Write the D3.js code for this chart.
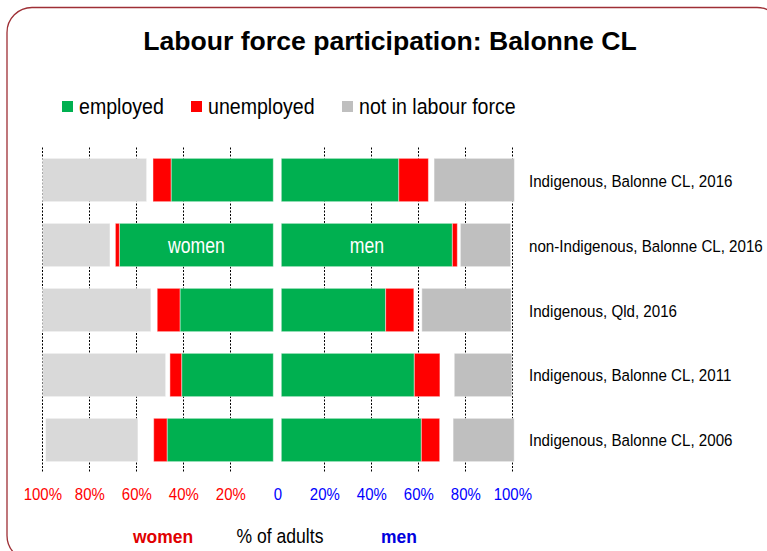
<!DOCTYPE html>
<html>
<head>
<meta charset="utf-8">
<script src="https://cdn.jsdelivr.net/npm/d3@7"></script>
<style>
  body { margin: 0; background: #fff; }
  text { font-family: "Liberation Sans", Arial, sans-serif; }
</style>
</head>
<body>
<svg id="chart" width="767" height="551"></svg>
<script>
// ---------------- data (% of adults)
const categories = ["Indigenous, Balonne CL, 2016", "non-Indigenous, Balonne CL, 2016",
  "Indigenous, Qld, 2016", "Indigenous, Balonne CL, 2011", "Indigenous, Balonne CL, 2006"];

const womenEmployed   = [43.5, 65.5, 39.7, 39.0, 45.2];
const womenUnemployed = [7.7, 1.7, 9.7, 5.0, 5.7];
const womenNotStated  = [2.7, 2.3, 2.7, 1.8, 6.7];
const womenNotInLF    = [44.3, 28.6, 46.1, 52.3, 39.3];

const menEmployed   = [50.0, 72.8, 44.4, 56.6, 59.6];
const menUnemployed = [12.6, 2.1, 12.0, 10.9, 7.8];
const menNotStated  = [2.4, 1.3, 3.4, 6.1, 5.7];
const menNotInLF    = [34.2, 21.4, 38.0, 24.5, 26.0];

const womenTicks = [100, 80, 60, 40, 20];
const menTicks = [0, 20, 40, 60, 80, 100];
const gridTicks = [20, 40, 60, 80, 100];

const legendItems = ["employed", "unemployed", "not in labour force"];

// ---------------- setup
const svg = d3.select("#chart");
const center = 277.3, half = 235, gap = 4;
const plotTop = 147.5, plotBottom = 472.5;

const xW = d3.scaleLinear().domain([0, 100]).range([center, center - half]);
const xM = d3.scaleLinear().domain([0, 100]).range([center, center + half]);
const y = d3.scaleBand().domain(categories).range([plotTop, plotBottom]).paddingInner(0.333).paddingOuter(0.1667);

// helper for the narrow looking text
function label(g, x, yy, txt, size, sx, anchor, color, weight) {
  return g.append("text")
    .attr("transform", "translate(" + x + "," + yy + ") scale(" + sx + ",1)")
    .attr("text-anchor", anchor || "start")
    .attr("font-size", size)
    .attr("font-weight", weight || "normal")
    .attr("fill", color || "#000")
    .text(txt);
}

// frame
svg.append("rect")
  .attr("x", 7).attr("y", 7.5).attr("width", 775).attr("height", 553)
  .attr("rx", 25).attr("ry", 25)
  .attr("fill", "#fff").attr("stroke", "#9e2f35").attr("stroke-width", 1.3);

// title
svg.append("text")
  .attr("x", 390).attr("y", 49.5)
  .attr("text-anchor", "middle")
  .attr("font-size", 26.6).attr("font-weight", "bold")
  .text("Labour force participation: Balonne CL");

// legend
const legendColors = ["#00b050", "#ff0000", "#bfbfbf"];
const legendX = [62, 191, 342];
const legend = svg.append("g");
legendItems.forEach((d, i) => {
  legend.append("rect").attr("x", legendX[i]).attr("y", 101).attr("width", 11).attr("height", 11)
    .attr("fill", legendColors[i]);
  label(legend, legendX[i] + 17, 114, d, 22, 0.89);
});

// gridlines
const grid = svg.append("g")
  .attr("stroke", "#000").attr("stroke-width", 1).attr("stroke-dasharray", "2,1.5");
[xW, xM].forEach(sc => {
  grid.selectAll(null).data(gridTicks).enter().append("line")
    .attr("x1", d => Math.round(sc(d)) + 0.5).attr("x2", d => Math.round(sc(d)) + 0.5)
    .attr("y1", plotTop).attr("y2", plotBottom);
});

// bars
function segments(emp, unemp, ns, nilf) {
  return categories.map((c, i) => {
    let a = 0;
    const parts = [["employed", emp[i]], ["unemployed", unemp[i]], ["notStated", ns[i]], ["notInLF", nilf[i]]];
    return parts.map(p => {
      const s = { cat: c, key: p[0], x0: a, x1: a + p[1] };
      a += p[1];
      return s;
    });
  }).flat();
}

const womenColors = { employed: "#00b050", unemployed: "#ff0000", notStated: "none", notInLF: "#d9d9d9" };
const menColors = { employed: "#00b050", unemployed: "#ff0000", notStated: "none", notInLF: "#bfbfbf" };

// bars start `gap` px away from the centre
const gapW = xW.invert(center - gap), gapM = xM.invert(center + gap);

svg.append("g").selectAll("rect")
  .data(segments(womenEmployed, womenUnemployed, womenNotStated, womenNotInLF).filter(d => d.key != "notStated"))
  .enter().append("rect")
  .attr("x", d => xW(gapW + d.x1))
  .attr("width", d => xW(gapW + d.x0) - xW(gapW + d.x1))
  .attr("y", d => y(d.cat)).attr("height", y.bandwidth())
  .attr("fill", d => womenColors[d.key])
  .attr("stroke", "rgba(255,255,255,0.45)").attr("stroke-width", 1);

svg.append("g").selectAll("rect")
  .data(segments(menEmployed, menUnemployed, menNotStated, menNotInLF).filter(d => d.key != "notStated"))
  .enter().append("rect")
  .attr("x", d => xM(gapM + d.x0))
  .attr("width", d => xM(gapM + d.x1) - xM(gapM + d.x0))
  .attr("y", d => y(d.cat)).attr("height", y.bandwidth())
  .attr("fill", d => menColors[d.key])
  .attr("stroke", "rgba(255,255,255,0.45)").attr("stroke-width", 1);

// women / men labels inside the non-Indigenous bar
const c2 = categories[1], i2 = 1;
const inBar = svg.append("g");
label(inBar, (xW(gapW) + xW(gapW + womenEmployed[i2])) / 2, y(c2) + y.bandwidth() / 2 + 7.5, "women", 22, 0.8, "middle", "#fff");
label(inBar, (xM(gapM) + xM(gapM + menEmployed[i2])) / 2, y(c2) + y.bandwidth() / 2 + 7.5, "men", 22, 0.8, "middle", "#fff");

// category labels
const cats = svg.append("g");
categories.forEach(c => {
  label(cats, 529, y(c) + y.bandwidth() / 2 + 6.5, c, 17.2, 0.88);
});

// axes (labels only)
const axW = svg.append("g").attr("transform", "translate(0,488)")
  .call(d3.axisBottom(xW).tickValues(womenTicks).tickSize(0).tickPadding(0).tickFormat(d => d + "%"));
const axM = svg.append("g").attr("transform", "translate(0,488)")
  .call(d3.axisBottom(xM).tickValues(menTicks).tickSize(0).tickPadding(0).tickFormat(d => d === 0 ? "0" : d + "%"));
[[axW, "#ff0000"], [axM, "#0000ff"]].forEach(a => {
  a[0].select(".domain").remove();
  a[0].selectAll("text")
    .attr("font-family", "Liberation Sans, Arial, sans-serif")
    .attr("font-size", 17.2)
    .attr("fill", a[1])
    .attr("transform", "scale(0.87,1)");
});

// bottom titles
const foot = svg.append("g");
label(foot, 163, 543, "women", 19, 0.92, "middle", "#e00000", "bold");
label(foot, 280, 543, "% of adults", 19.5, 0.9, "middle", "#000");
label(foot, 399, 543, "men", 19, 0.92, "middle", "#0000dd", "bold");
</script>
</body>
</html>
